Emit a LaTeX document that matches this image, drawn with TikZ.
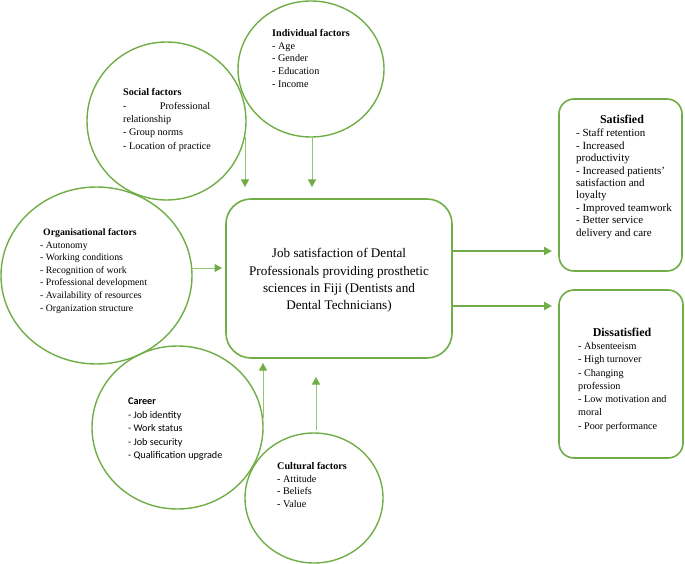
\documentclass[tikz,border=0pt]{standalone}
\usepackage{fontspec}
\setmainfont{Liberation Serif}
\newfontfamily\carlito{Carlito}
\usetikzlibrary{shapes.geometric,arrows.meta}
\definecolor{grn}{HTML}{70AD47}
\definecolor{lgrn}{HTML}{93C572}
\newcommand\fsz[2]{\fontsize{#1}{#2}\selectfont}
\begin{document}
\begin{tikzpicture}[x=1bp,y=-1bp,
  circ/.style={draw=grn, line width=1.4bp, ellipse, inner sep=0pt},
  rbox/.style={draw=grn, line width=1.6bp, rectangle, inner sep=0pt, rounded corners=#1},
  txt/.style={inner sep=0pt, anchor=north west, align=left},
  arr/.style={draw=lgrn, line width=1bp, -{Triangle[length=7.5bp,width=8bp,fill=grn,color=grn]}},
  arrb/.style={draw=grn, line width=2bp, -{Triangle[length=8bp,width=8bp]}}
]
\useasboundingbox (0,0) rectangle (685,564);

% shapes
\node[circ, minimum width=146bp, minimum height=136bp] (ind) at (311,69) {};
\node[circ, minimum width=159bp, minimum height=158bp] (soc) at (166.5,121) {};
\node[circ, minimum width=191bp, minimum height=177bp] (org) at (96.5,275.5) {};
\node[circ, minimum width=171bp, minimum height=163bp] (car) at (177.5,427.5) {};
\node[circ, minimum width=138bp, minimum height=130bp] (cul) at (314,498) {};
\node[rbox=25bp, minimum width=226bp, minimum height=159bp] (main) at (339,278.5) {};
\node[rbox=15bp, minimum width=123bp, minimum height=172bp] (sat) at (620.5,185) {};
\node[rbox=15bp, minimum width=124bp, minimum height=168bp] (dis) at (621,374) {};

% texts
\node[txt, font=\fsz{10.2}{12.75}] (indT) at (272,27.5) {\strut\textbf{Individual factors}\\- Age\\- Gender\\- Education\\- Income};
\node[txt, font=\fsz{10.2}{13.5}] (socT) at (123,86) {\strut\textbf{Social factors}\\\makebox[87bp][s]{- Professional}\\relationship\\- Group norms\\- Location of practice};
\node[txt, font=\fsz{9.8}{12.7}] (orgT) at (40,226.3) {\strut\hspace*{3bp}\textbf{Organisational factors}\\- Autonomy\\- Working conditions\\- Recognition of work\\- Professional development\\- Availability of resources\\- Organization structure};
\node[txt, font=\carlito\fsz{10.2}{13.6}] (carT) at (128,394.9) {\strut\textbf{Career}\\- Job identity\\- Work status\\- Job security\\- Qualification upgrade};
\node[txt, font=\fsz{10.2}{12.6}] (culT) at (277,460.6) {\strut\textbf{Cultural factors}\\- Attitude\\- Beliefs\\- Value};
\node[txt, anchor=north, align=center, font=\fsz{13.2}{17.5}] (mainT) at (339,245.2) {\strut Job satisfaction of Dental\\Professionals providing prosthetic\\sciences in Fiji (Dentists and\\Dental Technicians)};
\node[inner sep=0pt, anchor=base, font=\fsz{12}{12.5}] (satH) at (622,123.8) {\textbf{Satisfied}};
\node[txt, font=\fsz{11}{12.5}] (satT) at (576,127.8) {\strut - Staff retention\\- Increased\\productivity\\- Increased patients'\\satisfaction and\\loyalty\\- Improved teamwork\\- Better service\\delivery and care};
\node[inner sep=0pt, anchor=base, font=\fsz{12}{13.3}] (disH) at (622,336) {\textbf{Dissatisfied}};
\node[txt, font=\fsz{10.2}{13.3}] (disT) at (578,340.1) {\strut - Absenteeism\\- High turnover\\- Changing\\profession\\- Low motivation and\\moral\\- Poor performance};

% connector end points
\coordinate (socA) at (245,137);
\coordinate (socB) at (245,187);
\coordinate (indA) at (312,137);
\coordinate (indB) at (312,187);
\coordinate (orgA) at (192,268);
\coordinate (orgB) at (222,268);
\coordinate (carA) at (263,418);
\coordinate (carB) at (263,363);
\coordinate (culA) at (316,430);
\coordinate (culB) at (316,377);
\coordinate (satA) at (452,251);
\coordinate (satB) at (552,251);
\coordinate (disA) at (452,306);
\coordinate (disB) at (552,306);

\draw[arr] (socA) -- (socB);
\draw[arr] (indA) -- (indB);
\draw[arr] (orgA) -- (orgB);
\draw[arr] (carA) -- (carB);
\draw[arr] (culA) -- (culB);
\draw[arrb] (satA) -- (satB);
\draw[arrb] (disA) -- (disB);
\end{tikzpicture}
\end{document}
